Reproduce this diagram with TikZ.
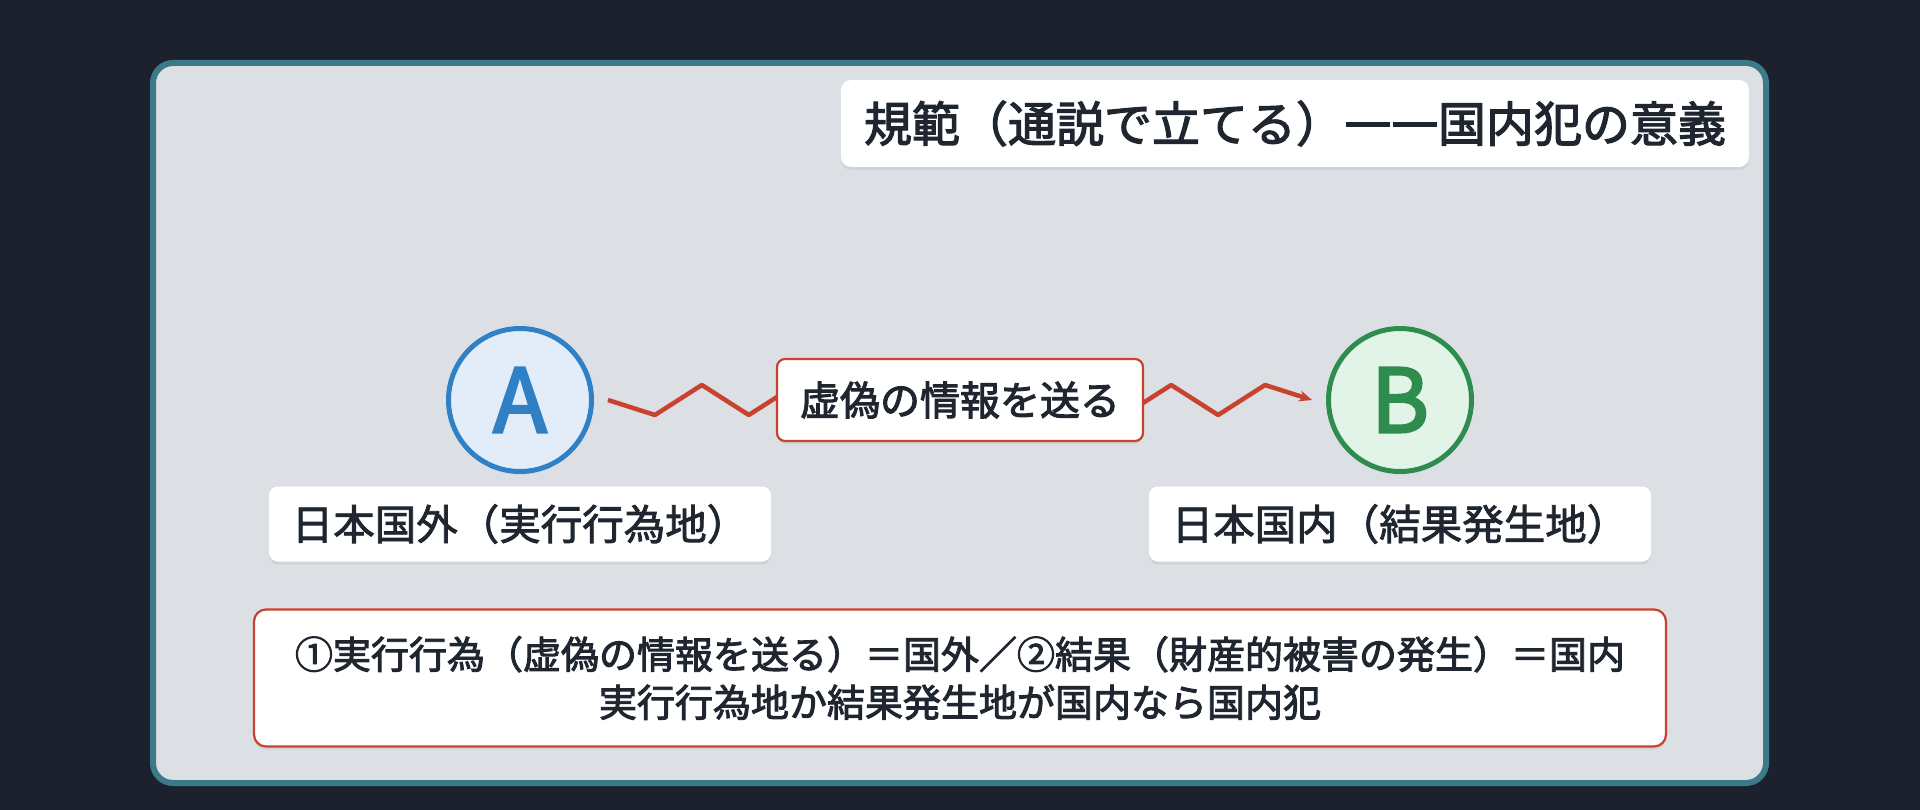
\documentclass[tikz,border=0pt]{standalone}
\usepackage{fontspec}
\newfontfamily\jp[FakeBold=2.5]{Noto Sans CJK JP}
\newfontfamily\jpl[FakeBold=2]{Noto Sans CJK JP}
\newfontfamily\jpA[FakeBold=3]{Noto Sans CJK JP}
\usetikzlibrary{arrows.meta,calc,shadows}
\newcommand\mydash{\makebox[47pt]{\rule[15pt]{44pt}{4.6pt}}}
\definecolor{bg}{HTML}{1B222D}
\definecolor{frameC}{HTML}{3D7A89}
\definecolor{panel}{HTML}{DCDFE4}
\definecolor{ink}{HTML}{1F2630}
\definecolor{blueC}{HTML}{3080C6}
\definecolor{blueF}{HTML}{E3EDF9}
\definecolor{greenC}{HTML}{2E8D4E}
\definecolor{greenF}{HTML}{E1F4E7}
\definecolor{redC}{HTML}{C9412F}
\tikzset{
  softshadow/.style={drop shadow={opacity=0.12,shadow xshift=0pt,shadow yshift=-3pt}},
  whitebox/.style={fill=white, rounded corners=9pt, inner sep=0pt, text=ink, softshadow},
  labelbox/.style={whitebox, minimum width=502pt, minimum height=75pt,
    font=\jpl\fontsize{41.5}{48}\selectfont},
  redbox/.style={whitebox, draw=redC, line width=2.2pt},
  person/.style={circle, minimum size=143pt, line width=5pt, inner sep=0pt, softshadow,
    font=\jpA\fontsize{88}{88}\selectfont},
  zig/.style={draw=redC, line width=4.5pt, line join=round,
    -{Stealth[length=13pt,width=11pt]}},
}
\begin{document}
\begin{tikzpicture}[x=1pt,y=-1pt]
\useasboundingbox[fill=bg] (0,0) rectangle (1920,810);
% panel
\draw[fill=panel, draw=frameC, line width=6pt, rounded corners=20pt] (153,63) rectangle (1766,783);
% title
\node[whitebox, rounded corners=10pt, minimum width=908pt, minimum height=87pt,
  font=\jp\fontsize{48}{56}\selectfont] (title) at (1295,123.5)
  {規範（通説で立てる）\mydash\mydash 国内犯の意義};
% persons
\node[person, draw=blueC, fill=blueF, text=blueC] (A) at (520,400) {A};
\node[person, draw=greenC, fill=greenF, text=greenC] (B) at (1400,400) {B};
% zigzag connector
\coordinate (zs) at ($(A.east)+(14,0)$);
\coordinate (ze) at ($(B.west)+(-14,0)$);
\draw[zig] (zs)
  \foreach \k/\d in {1/15,2/-15,3/15,4/-15,5/15,6/-15,7/15,8/-15,9/15,10/-15,11/15,12/-15,13/15,14/-15}
  { -- ($(zs)!\k/15!(ze)+(0,\d)$) } -- (ze);
\node[redbox, rounded corners=8pt, minimum width=366pt, minimum height=82pt,
  font=\jp\fontsize{40}{46}\selectfont] (act) at (960,400) {虚偽の情報を送る};
% place labels
\node[labelbox] (la) at (520,524) {日本国外（実行行為地）};
\node[labelbox] (lb) at (1400,524) {日本国内（結果発生地）};
% note
\node[redbox, rounded corners=12pt, minimum width=1412pt, minimum height=137pt, align=center,
  font=\jp\fontsize{38}{48}\selectfont] (note) at (960,678)
  {①実行行為（虚偽の情報を送る）＝国外／②結果（財産的被害の発生）＝国内\\実行行為地か結果発生地が国内なら国内犯};
\end{tikzpicture}
\end{document}
